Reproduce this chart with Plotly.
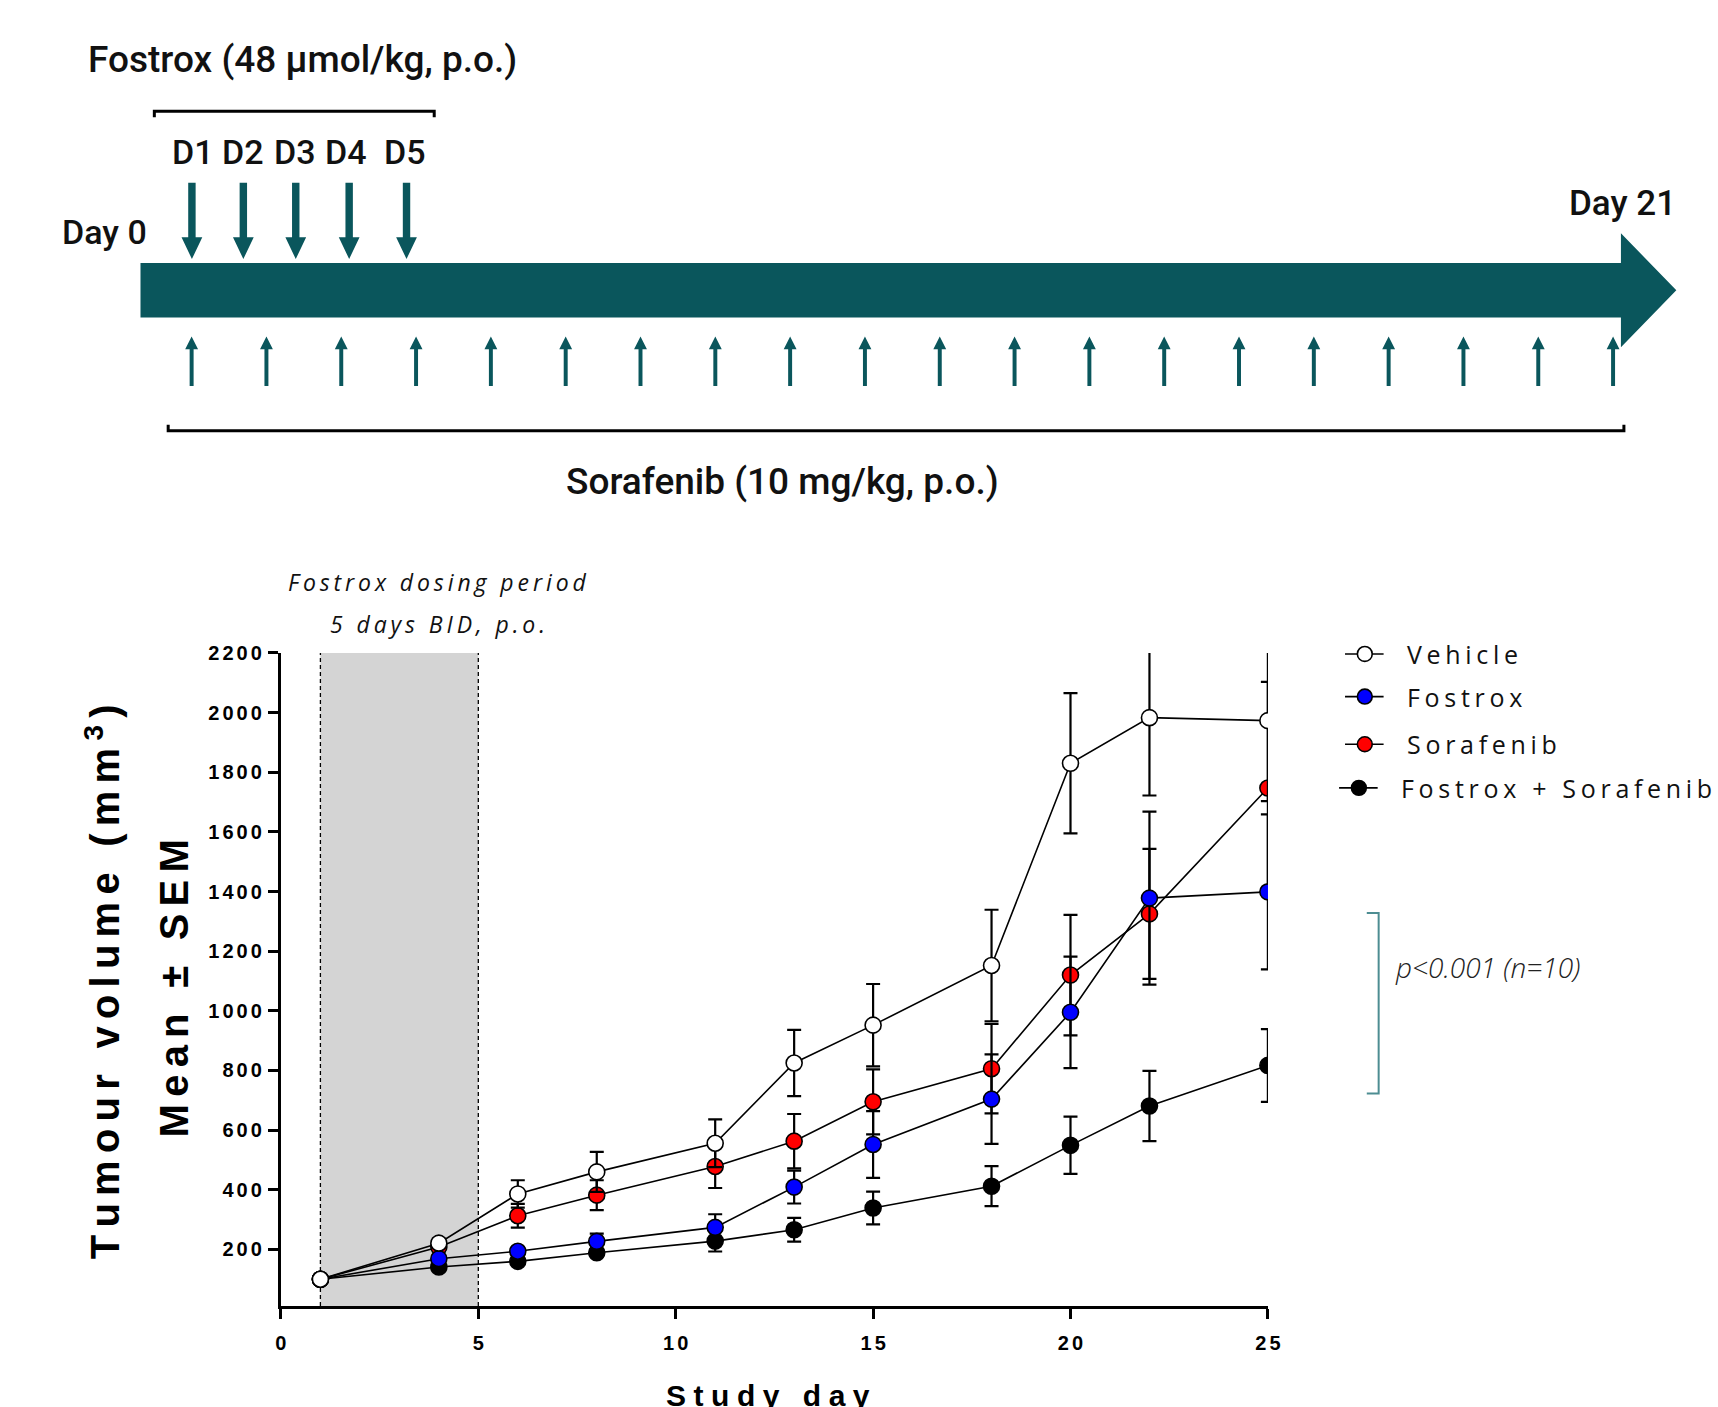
import plotly.graph_objects as go

# ---------------- data ----------------
days = [1, 4, 6, 8, 11, 13, 15, 18, 20, 22, 25]
vehicle = [100, 221, 386, 460, 556, 825, 952, 1152, 1830, 1983, 1973]
vehicle_sem = [0, 15, 46, 67, 80, 111, 138, 187, 235, 261, 270]
fostrox = [100, 169, 194, 227, 274, 409, 552, 704, 995, 1378, 1399]
fostrox_sem = [0, 12, 14, 26, 44, 55, 112, 150, 187, 290, 260]
sorafenib = [100, 208, 313, 382, 478, 563, 695, 806, 1120, 1325, 1747]
sorafenib_sem = [0, 15, 40, 50, 72, 91, 109, 150, 202, 218, 356]
combo = [100, 141, 160, 189, 228, 266, 339, 412, 549, 681, 817]
combo_sem = [0, 10, 10, 12, 35, 40, 55, 67, 96, 118, 122]

series_names = ["Vehicle", "Fostrox", "Sorafenib", "Fostrox + Sorafenib"]
series_fill = ["#ffffff", "#0000ff", "#ff0000", "#000000"]

x_ticks = [0, 5, 10, 15, 20, 25]
y_ticks = [200, 400, 600, 800, 1000, 1200, 1400, 1600, 1800, 2000, 2200]
dosing_period = [1, 5]

fostrox_dose_labels = ["D1", "D2", "D3", "D4", "D5"]
n_sorafenib_doses = 20

# ---------------- helpers ----------------
W, H = 1718, 1407
TEAL = "#0a565c"


def X(px):
    return px / W


def Y(py):
    return 1 - py / H


def spaced(text, gap_font):
    gap = '<span style="font-size:%dpx">\u00a0</span>' % gap_font
    out = []
    for i, ch in enumerate(text):
        out.append("\u00a0" if ch == " " else ch)
        if i < len(text) - 1:
            out.append(gap)
    return "".join(out)


fig = go.Figure()

order = [3, 2, 1, 0]  # bottom -> top
vals = [vehicle, fostrox, sorafenib, combo]
sems = [vehicle_sem, fostrox_sem, sorafenib_sem, combo_sem]
for i in order:
    fig.add_trace(go.Scatter(
        x=days, y=vals[i], mode="lines+markers", name=series_names[i],
        line=dict(color="black", width=1.6),
        marker=dict(size=16, color=series_fill[i], line=dict(color="black", width=1.6)),
        error_y=dict(type="data", array=sems[i], color="black", thickness=2.2, width=7),
        showlegend=False, cliponaxis=True,
    ))

YMIN, YMAX = 10, 2200

shapes = []
shapes.append(dict(type="rect", xref="x", yref="y", x0=dosing_period[0], x1=dosing_period[1],
                   y0=YMIN, y1=YMAX, fillcolor="#d4d4d4", line=dict(width=0), layer="below"))
for d in dosing_period:
    shapes.append(dict(type="line", xref="x", yref="y", x0=d, x1=d, y0=YMIN, y1=YMAX,
                       line=dict(color="black", width=1.3, dash="4px,3px"), layer="below"))


def poly(points, color):
    path = "M " + " L ".join("%.5f,%.5f" % (X(a), Y(b)) for a, b in points) + " Z"
    return dict(type="path", xref="paper", yref="paper", path=path,
                fillcolor=color, line=dict(width=0))


def arrow(cx, y_tip, y_tail, shaft_w, head_w, head_h):
    s = 1 if y_tip < y_tail else -1
    yb = y_tip + s * head_h
    pts = [(cx - shaft_w / 2, y_tail), (cx - shaft_w / 2, yb), (cx - head_w / 2, yb),
           (cx, y_tip), (cx + head_w / 2, yb), (cx + shaft_w / 2, yb), (cx + shaft_w / 2, y_tail)]
    return poly(pts, TEAL)


# big timeline arrow
shapes.append(poly([(136, 254), (1633, 254), (1633, 224), (1689, 281.5), (1633, 339),
                    (1633, 309), (136, 309)], TEAL))

# fostrox down arrows
down_x = [188, 240, 293, 347, 405]
for cx in down_x:
    shapes.append(arrow(cx, 250, 173, 7.5, 21, 22))

# sorafenib up arrows
for k in range(n_sorafenib_doses):
    cx = 187.7 + k * 75.65
    shapes.append(arrow(cx, 328, 378, 4, 13, 13))


def pline(pts, color="black", width=3):
    path = "M " + " L ".join("%.5f,%.5f" % (X(a), Y(b)) for a, b in pts)
    return dict(type="path", xref="paper", yref="paper", path=path,
                line=dict(color=color, width=width))


shapes.append(pline([(150, 107), (150, 101), (433, 101), (433, 107)]))
shapes.append(pline([(164, 417), (164, 423), (1636, 423), (1636, 417)]))
shapes.append(pline([(1376, 909), (1388, 909), (1388, 1091), (1376, 1091)], color="#4d8d92", width=2))

# manual legend
leg_y = [648, 691, 739, 783]
leg_cx = [1374, 1374, 1374, 1368]
for i in range(4):
    cx, cy = leg_cx[i], leg_y[i]
    shapes.append(dict(type="line", xref="paper", yref="paper", x0=X(cx - 20), x1=X(cx + 19),
                       y0=Y(cy), y1=Y(cy), line=dict(color="black", width=1.6)))
    r = 7.5
    shapes.append(dict(type="circle", xref="paper", yref="paper", x0=X(cx - r), x1=X(cx + r),
                       y0=Y(cy + r), y1=Y(cy - r), fillcolor=series_fill[i],
                       line=dict(color="black", width=1.6)))

fig.update_layout(shapes=shapes)


def ann(text, x, y, size, family, color="#111111", xanchor="center", yanchor="middle",
        weight="normal", style="normal", angle=0):
    fig.add_annotation(text=text, x=X(x), y=Y(y), xref="paper", yref="paper", showarrow=False,
                       xanchor=xanchor, yanchor=yanchor, textangle=angle,
                       font=dict(family=family, size=size, color=color, weight=weight, style=style))


# top diagram texts
ann("Fostrox (48 \u00b5mol/kg, p.o.)", 300, 49, 37, "Roboto", weight=500)
for lab, cx in zip(fostrox_dose_labels, [189, 240, 292, 344, 403]):
    ann(lab, cx, 142, 34, "Roboto", weight=500)
ann("Day 0", 99.5, 223, 34, "Roboto", weight=500)
ann("Day 21", 1635, 194, 35, "Roboto", weight=500)
ann("Sorafenib (10 mg/kg, p.o.)", 785, 474, 37, "Roboto", weight=500)

# chart texts
ann(spaced("Fostrox dosing period", 15), 436, 575, 23, "Open Sans", style="italic")
ann(spaced("5 days BID, p.o.", 15), 436, 618, 23, "Open Sans", style="italic")
ann("p<0.001 (n=10)", 1403, 964, 28, "Open Sans", color="#222222", xanchor="left",
    weight=300, style="italic")
for i in range(4):
    ann(spaced(series_names[i], 18), leg_cx[i] + 41, leg_y[i], 25, "Open Sans",
        xanchor="left")

g = '<span style="font-size:26px">\u00a0</span>'
ytitle1 = spaced("Tumour volume (mm", 26) + g + "<sup>3</sup>" + g + ")"
ann(ytitle1, 98, 978, 40, "Liberation Sans", color="black", weight="bold", angle=-90)
ann(spaced("Mean \u00b1 SEM", 26), 170, 985, 40, "Liberation Sans", color="black",
    weight="bold", angle=-90)
ann(spaced("Study day", 27), 771, 1395, 30, "Liberation Sans", color="black", weight="bold")

tickfont = dict(family="Liberation Sans", size=20, color="black", weight="bold")
fig.update_xaxes(
    domain=[X(278), X(1276)], range=[0, 25], tickvals=x_ticks,
    ticktext=[spaced(str(t), 11) for t in x_ticks],
    showline=True, linewidth=3, linecolor="black", ticks="outside", ticklen=10,
    tickwidth=3, tickcolor="black", showgrid=False, zeroline=False, tickfont=tickfont,
    ticklabelstandoff=7,
)
fig.update_yaxes(
    domain=[Y(1305.3), Y(647)], range=[YMIN, YMAX], tickvals=y_ticks,
    ticktext=[spaced(str(t), 11) for t in y_ticks],
    showline=True, linewidth=3, linecolor="black", ticks="outside", ticklen=10,
    tickwidth=3, tickcolor="black", showgrid=False, zeroline=False, tickfont=tickfont,
    ticklabelstandoff=2,
)

fig.update_layout(
    width=W, height=H, autosize=False, margin=dict(l=0, r=0, t=0, b=0),
    paper_bgcolor="white", plot_bgcolor="white", showlegend=False,
)

fig.write_html("out.html")
